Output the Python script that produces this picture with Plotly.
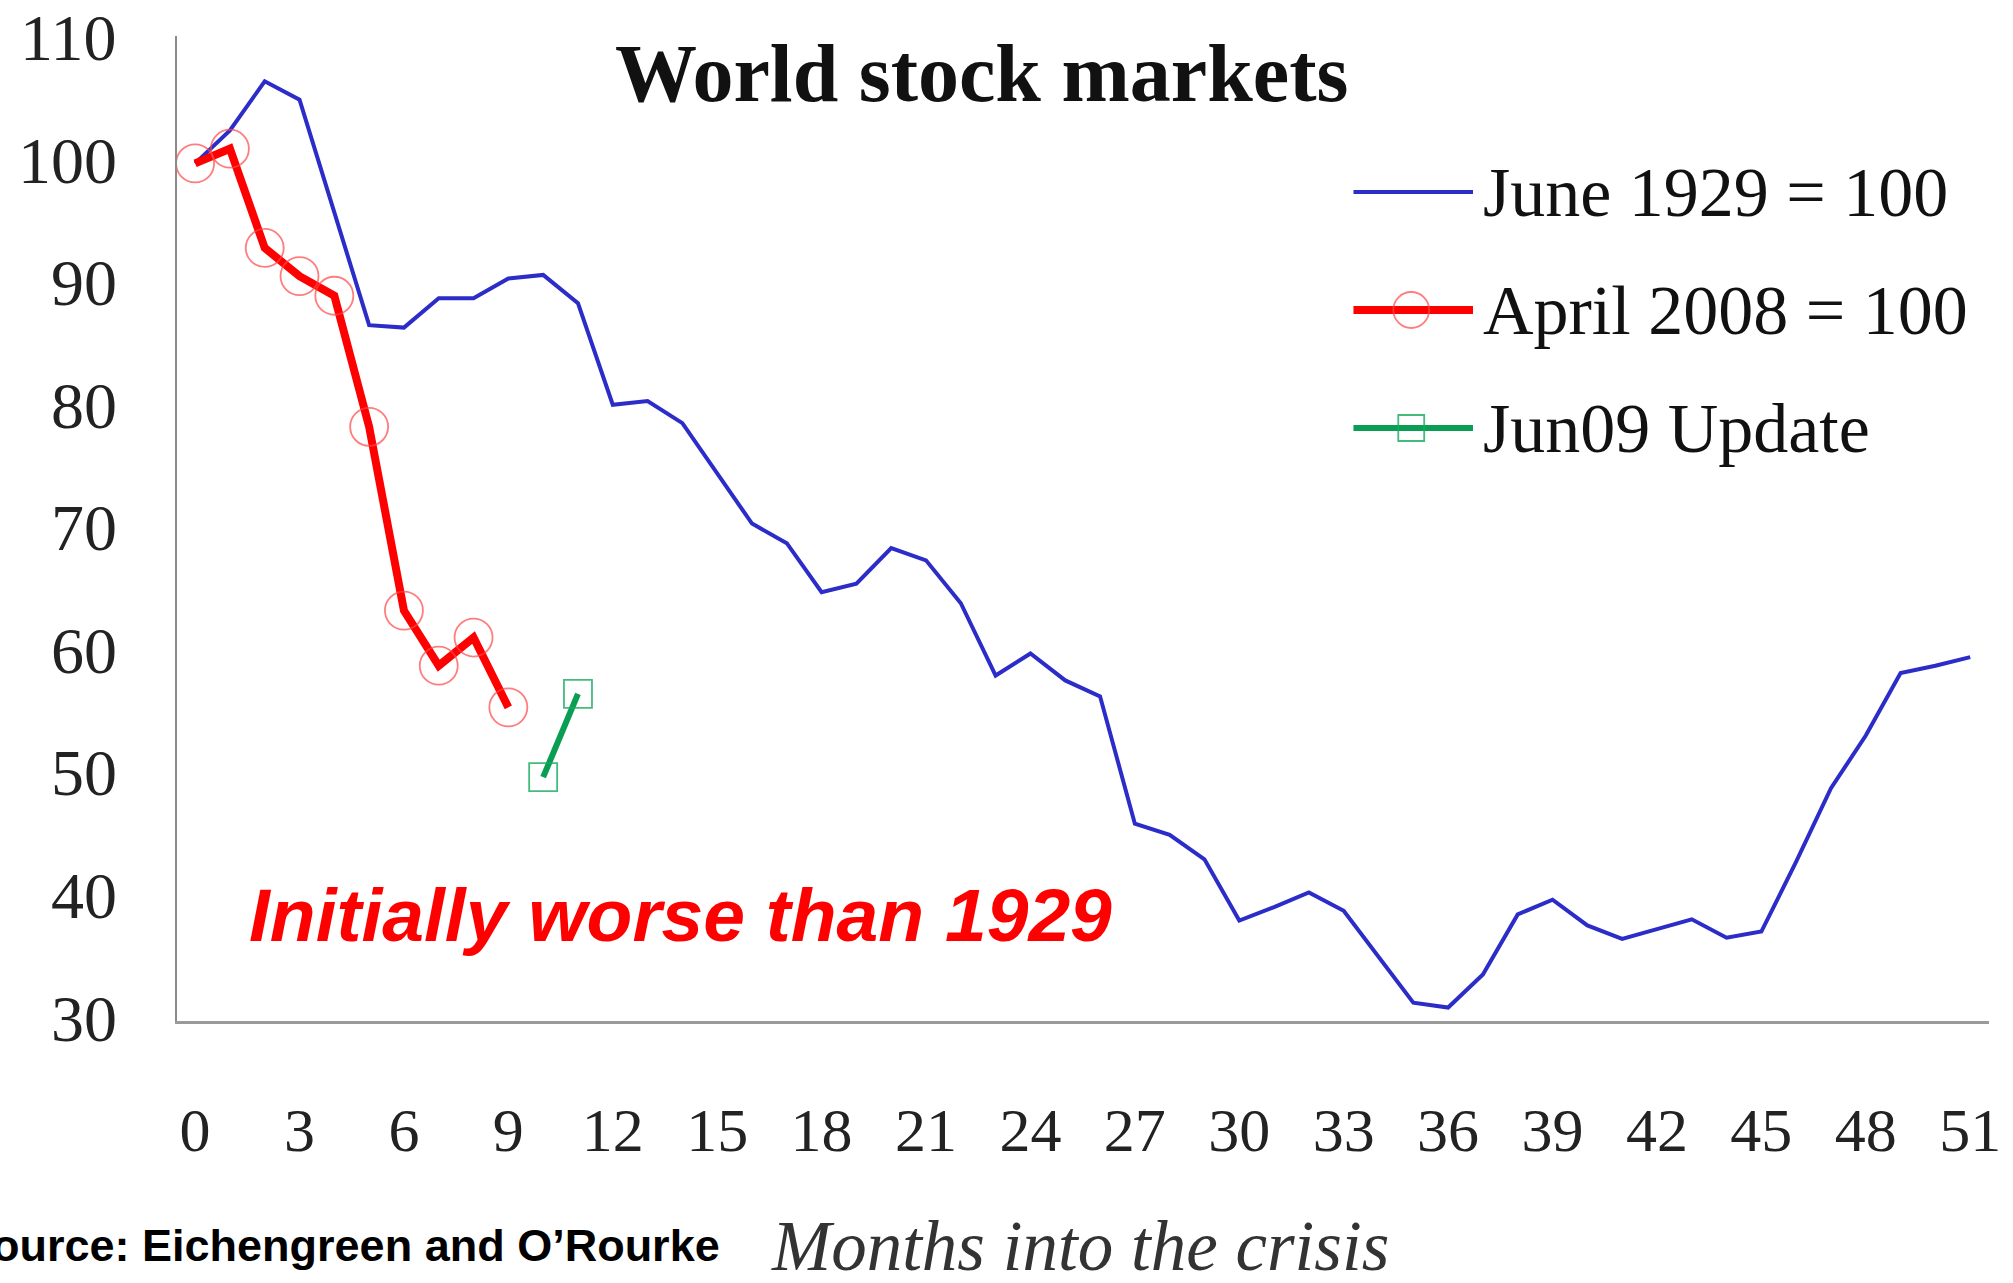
import plotly.graph_objects as go

# Months into the crisis
months_1929 = list(range(0, 52))
index_1929 = [100, 102.7, 106.7, 105.2, 96.0, 86.8, 86.6, 89.0, 89.0, 90.6,
              90.9, 88.6, 80.3, 80.6, 78.8, 74.7, 70.6, 69.0, 65.0, 65.7,
              68.6, 67.6, 64.1, 58.2, 60.0, 57.8, 56.5, 46.1, 45.2, 43.2,
              38.2, 39.3, 40.5, 39.0, 35.2, 31.5, 31.1, 33.8, 38.7, 39.9,
              37.8, 36.7, 37.5, 38.3, 36.8, 37.3, 43.0, 49.0, 53.3, 58.4,
              59.0, 59.7]

months_2008 = list(range(0, 10))
index_2008 = [100, 101.2, 93.1, 90.8, 89.2, 78.5, 63.5, 59.0, 61.3, 55.6]

months_jun09 = [10, 11]
index_jun09 = [49.9, 56.7]

x_ticks = list(range(0, 52, 3))
y_ticks = list(range(30, 111, 10))

legend_names = ["June 1929 = 100", "April 2008 = 100", "Jun09 Update"]

BLUE = "#2c2cc8"
RED = "#ff0000"
GREEN = "#0a9e55"
SERIF = "Liberation Serif, Times New Roman, serif"
SANS = "Liberation Sans, Arial, sans-serif"

W, H = 2013, 1283
L, R, T, B = 177, 17, 36, 262

fig = go.Figure()
fig.add_trace(go.Scatter(x=months_1929, y=index_1929, mode="lines",
                         line=dict(color=BLUE, width=4), name=legend_names[0]))
fig.add_trace(go.Scatter(x=months_2008, y=index_2008, mode="lines+markers",
                         line=dict(color=RED, width=8),
                         marker=dict(symbol="circle-open", size=38,
                                     color="rgba(255,70,70,0.7)",
                                     line=dict(width=1.8)),
                         name=legend_names[1]))
fig.add_trace(go.Scatter(x=months_jun09, y=index_jun09, mode="lines+markers",
                         line=dict(color=GREEN, width=6),
                         marker=dict(symbol="square-open", size=28,
                                     color="rgba(20,170,90,0.8)",
                                     line=dict(width=1.8)),
                         name=legend_names[2]))


def px(xp):
    return (xp - L) / (W - L - R)


def py(yp):
    return (H - B - yp) / (H - T - B)


# Hand-drawn legend: long line samples with the series markers centred on them
rows = [192, 310, 428]
shapes = []
annotations = []
styles = [(BLUE, 4), (RED, 8), (GREEN, 6)]
for (color, width), yrow, name in zip(styles, rows, legend_names):
    shapes.append(dict(type="line", xref="paper", yref="paper",
                       x0=px(1358), x1=px(1478), y0=py(yrow), y1=py(yrow),
                       line=dict(color=color, width=width)))
    annotations.append(dict(text=name, xref="paper", yref="paper",
                            x=px(1486), y=py(yrow), xanchor="left", yanchor="middle",
                            showarrow=False,
                            font=dict(family=SERIF, size=70, color="#111")))
shapes.append(dict(type="circle", xref="paper", yref="paper",
                   x0=px(1416 - 18), x1=px(1416 + 18), y0=py(rows[1] + 18), y1=py(rows[1] - 18),
                   line=dict(color="rgba(255,70,70,0.7)", width=1.8)))
shapes.append(dict(type="rect", xref="paper", yref="paper",
                   x0=px(1416 - 13), x1=px(1416 + 13), y0=py(rows[2] + 13), y1=py(rows[2] - 13),
                   line=dict(color="rgba(20,170,90,0.8)", width=1.8)))

# Value labels on the index axis, nudged up so the digits sit on their level
for v in y_ticks:
    annotations.append(dict(text=str(v), xref="paper", yref="y",
                            x=px(119), y=v, xanchor="right", yanchor="middle",
                            yshift=3, showarrow=False,
                            font=dict(family=SERIF, size=66, color="#222")))

annotations += [
    dict(text="<b>World stock markets</b>", xref="paper", yref="paper",
         x=px(985), y=py(73), xanchor="center", yanchor="middle", showarrow=False,
         font=dict(family=SERIF, size=82, color="#111")),
    dict(text="<b><i>Initially worse than 1929</i></b>", xref="paper", yref="paper",
         x=px(682), y=py(915), xanchor="center", yanchor="middle", showarrow=False,
         font=dict(family=SANS, size=75, color=RED)),
    dict(text="<b>Source: Eichengreen and O’Rourke</b>", xref="paper", yref="paper",
         x=px(724), y=py(1245), xanchor="right", yanchor="middle", showarrow=False,
         font=dict(family=SANS, size=45, color="#000")),
    dict(text="<i>Months into the crisis</i>", xref="paper", yref="paper",
         x=px(1083), y=py(1246), xanchor="center", yanchor="middle", showarrow=False,
         font=dict(family=SERIF, size=71, color="#333")),
]

fig.update_layout(
    width=W, height=H,
    margin=dict(l=L, r=R, t=T, b=B),
    paper_bgcolor="white", plot_bgcolor="white",
    showlegend=False,
    shapes=shapes,
    annotations=annotations,
)
fig.update_xaxes(range=[-0.52, 51.54], tickvals=x_ticks,
                 ticktext=[str(v) for v in x_ticks],
                 showgrid=False, zeroline=False, showline=True,
                 linecolor="#9a9a9a", linewidth=3, ticks="",
                 ticklabelstandoff=53,
                 tickfont=dict(family=SERIF, size=62, color="#222"))
fig.update_yaxes(range=[30, 110.4], tickvals=y_ticks, showticklabels=False,
                 showgrid=False, zeroline=False, showline=True,
                 linecolor="#8a8a8a", linewidth=2, ticks="")

fig.write_html("out.html")
